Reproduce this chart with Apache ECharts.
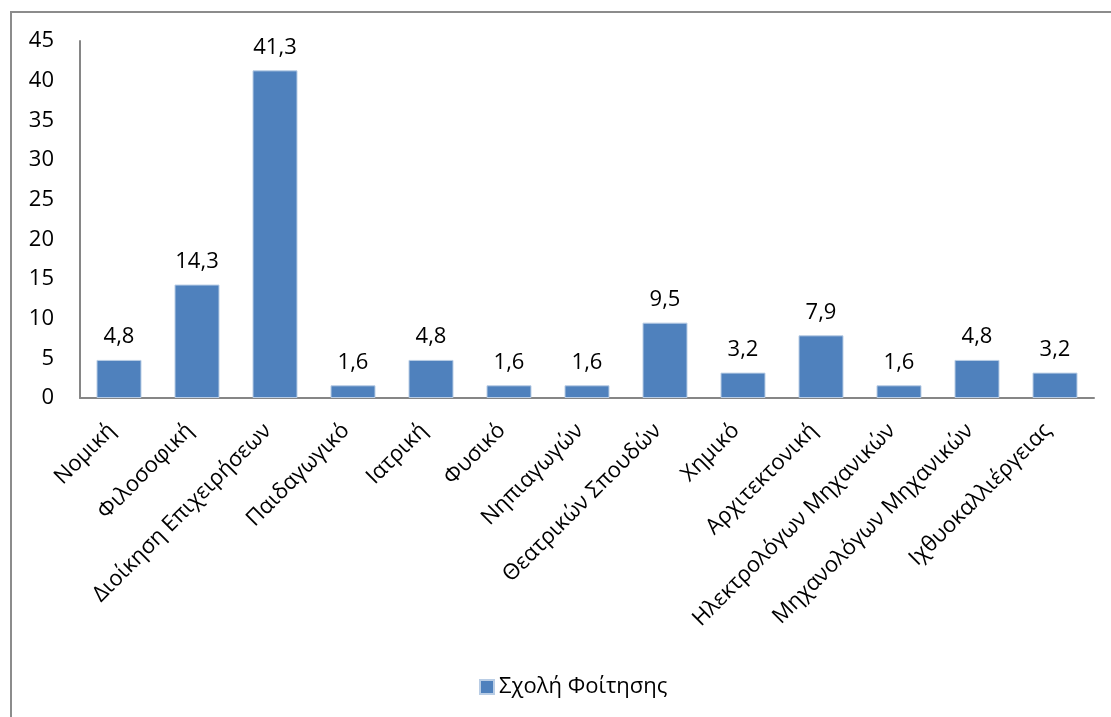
<!DOCTYPE html>
<html><head><meta charset="utf-8">
<script src="https://cdn.jsdelivr.net/npm/echarts@6/dist/echarts.min.js"></script>
<style>
html,body{margin:0;padding:0;background:#fff;overflow:hidden;}
#frame{position:absolute;left:10px;top:11px;width:1200px;height:800px;border:2px solid #8c8c8c;box-sizing:border-box;}
#c{position:absolute;left:0;top:0;width:1111px;height:717px;}
</style></head>
<body>
<div id="frame"></div>
<div id="c"></div>
<script>
const categories = ["Νομική","Φιλοσοφική","Διοίκηση Επιχειρήσεων","Παιδαγωγικό","Ιατρική","Φυσικό","Νηπιαγωγών","Θεατρικών Σπουδών","Χημικό","Αρχιτεκτονική","Ηλεκτρολόγων Μηχανικών","Μηχανολόγων Μηχανικών","Ιχθυοκαλλιέργειας"];
const values = [4.8,14.3,41.3,1.6,4.8,1.6,1.6,9.5,3.2,7.9,1.6,4.8,3.2];
const seriesName = "Σχολή Φοίτησης";
const yTicks = [0,5,10,15,20,25,30,35,40,45];

const font = "'Open Sans', 'Noto Sans', sans-serif";
const chart = echarts.init(document.getElementById('c'));
chart.setOption({
  animation:false,
  textStyle:{fontFamily:font},
  grid:{left:80,right:17,top:41,bottom:319,containLabel:false},
  legend:{
    data:[seriesName],
    bottom:14,left:474,
    icon:'rect',itemWidth:14,itemHeight:14,itemGap:5,
    textStyle:{fontSize:22,color:'#000',fontFamily:font}
  },
  xAxis:{
    type:'category',data:categories,
    axisLine:{lineStyle:{color:'#868686',width:2}},
    axisTick:{show:false},
    axisLabel:{interval:0,rotate:45,fontSize:22,color:'#000',margin:22,padding:[0,10,0,0],fontFamily:font}
  },
  yAxis:{
    type:'value',min:0,max:45,interval:5,
    axisLine:{show:true,lineStyle:{color:'#868686',width:2}},
    axisTick:{show:false},
    splitLine:{show:false},
    axisLabel:{fontSize:22,color:'#000',margin:26,fontFamily:font,
      formatter:v=>yTicks.includes(v)?String(v):''}
  },
  series:[{
    name:seriesName,type:'bar',data:values,barWidth:45,
    itemStyle:{color:'#4F81BD',borderColor:'#b9cde5',borderWidth:1},
    label:{show:true,position:'top',distance:12,fontSize:22,color:'#000',fontFamily:font,
      formatter:p=>String(p.value).replace('.',',')}
  }]
});
</script>
</body></html>
